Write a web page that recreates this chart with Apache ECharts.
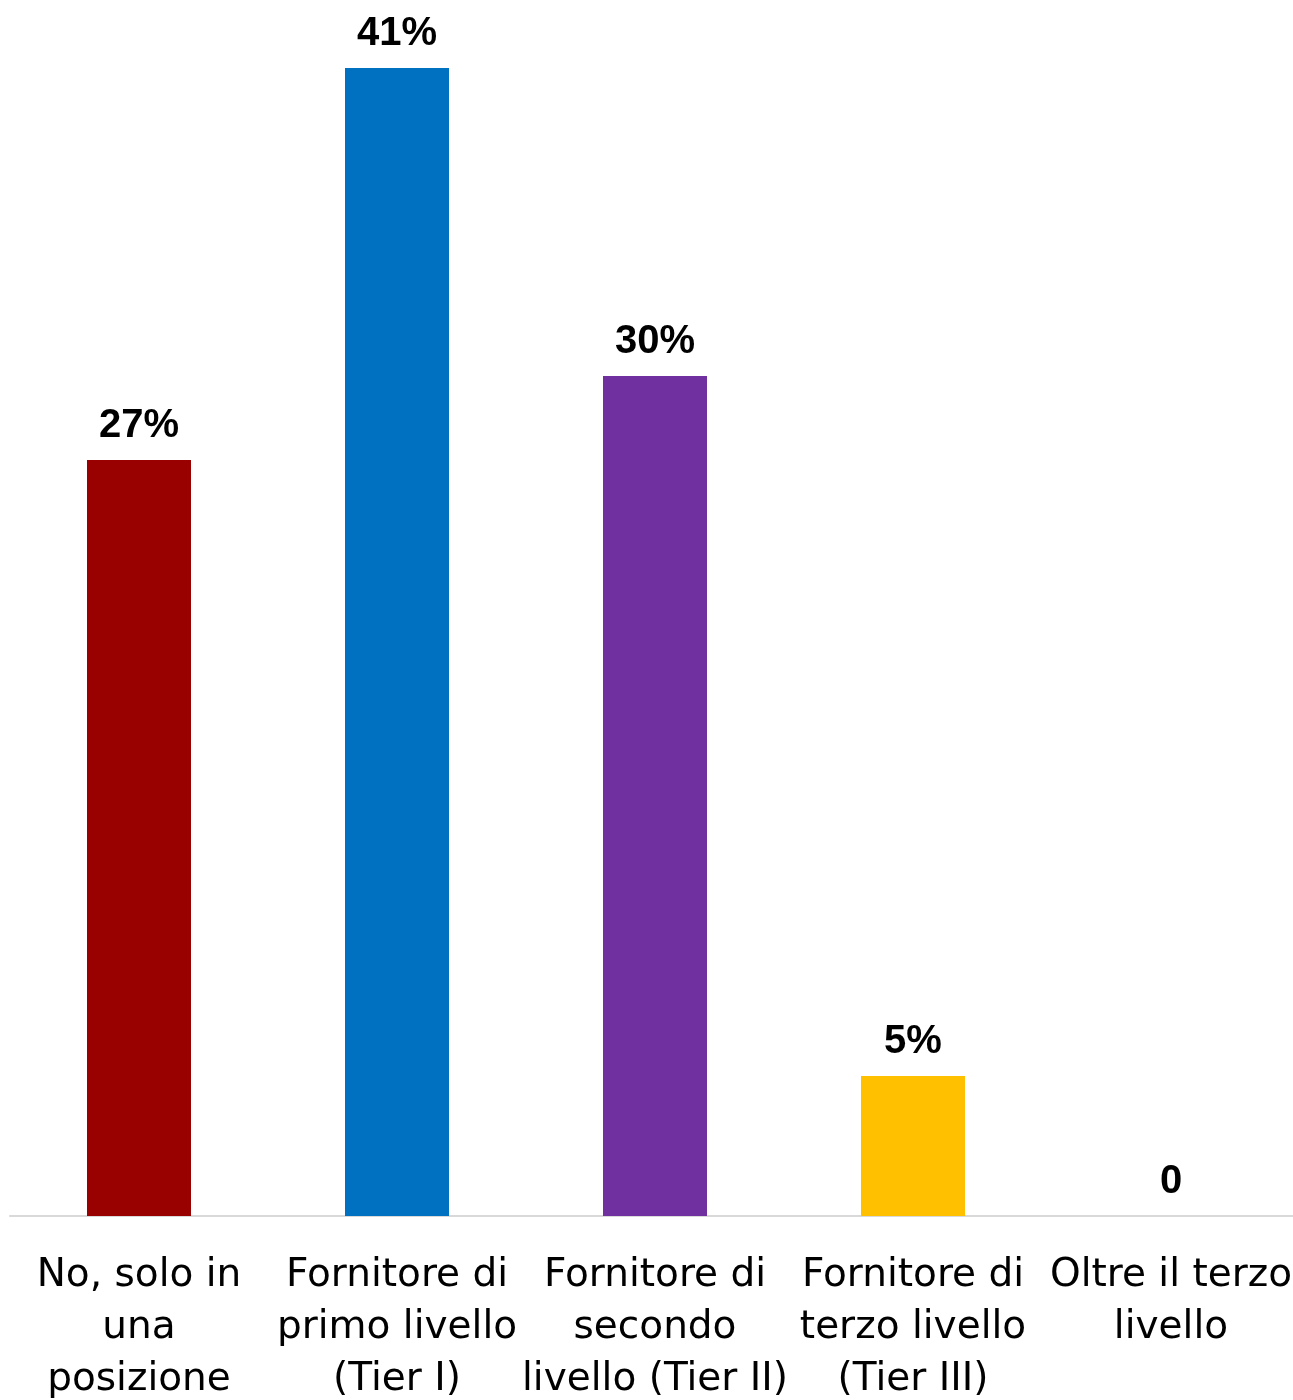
<!DOCTYPE html>
<html>
<head>
<meta charset="utf-8">
<script src="https://cdn.jsdelivr.net/npm/echarts@6/dist/echarts.min.js"></script>
<style>
  html, body { margin: 0; padding: 0; background: #ffffff; }
  #chart { width: 1293px; height: 1400px; }
</style>
</head>
<body>
<div id="chart"></div>
<script>
// Categories (line breaks as laid out under each bar)
const categories = [
  'No, solo in\nuna\nposizione',
  'Fornitore di\nprimo livello\n(Tier I)',
  'Fornitore di\nsecondo\nlivello (Tier II)',
  'Fornitore di\nterzo livello\n(Tier III)',
  'Oltre il terzo\nlivello'
];
// Share of respondents, percent
const values = [27, 41, 30, 5, 0];
// Value labels shown above the bars
const valueLabels = ['27%', '41%', '30%', '5%', '0'];
// Bar fill colours
const barColors = ['#990000', '#0070C0', '#7030A0', '#FFC000', '#A5A5A5'];

const chart = echarts.init(document.getElementById('chart'), null, { renderer: 'canvas' });

chart.setOption({
  animation: false,
  backgroundColor: '#ffffff',
  grid: {
    left: 10, right: -7, top: 12, bottom: 184,
    containLabel: false,
    outerBoundsMode: 'none'
  },
  xAxis: {
    type: 'category',
    data: categories,
    axisLine: { show: true, lineStyle: { color: '#d9d9d9', width: 2 } },
    axisTick: { show: false },
    axisLabel: {
      interval: 0,
      margin: 34,
      color: '#000000',
      fontFamily: 'DejaVu Sans',
      fontSize: 39,
      lineHeight: 52,
      align: 'center'
    }
  },
  yAxis: {
    type: 'value',
    min: 0,
    max: 43,
    show: false,
    splitLine: { show: false }
  },
  series: [{
    type: 'bar',
    barWidth: 104,
    data: values.map((v, i) => ({ value: v, itemStyle: { color: barColors[i] } })),
    label: {
      show: true,
      position: 'top',
      distance: 14,
      color: '#000000',
      fontFamily: 'Liberation Sans',
      fontWeight: 'bold',
      fontSize: 40,
      formatter: p => valueLabels[p.dataIndex]
    }
  }]
});
</script>
</body>
</html>
